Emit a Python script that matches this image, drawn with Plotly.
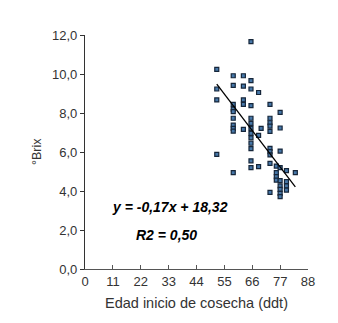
import plotly.graph_objects as go

# Data (x = days, y = °Brix)
x52 = [10.24, 9.23, 8.67, 5.88]
x58 = [9.91, 9.42, 8.44, 8.20, 8.07, 7.73, 7.38, 7.21, 7.07, 4.94]
x62 = [9.91, 9.38, 8.67, 8.44, 7.16]
x65 = [11.66, 9.66, 9.23, 8.38, 7.73, 7.47, 7.21, 6.96, 6.72, 6.45, 6.17, 5.55, 5.20]
x68 = [9.05, 6.85, 5.25]
x69 = [7.21]
x73 = [8.44, 7.73, 7.50, 7.33, 7.06, 6.19, 6.02, 5.85, 5.42, 3.93]
x75 = [5.28, 4.94, 4.74, 4.56]
x77 = [8.03, 7.23, 6.05, 5.20, 4.53, 4.26, 4.08, 3.88, 3.71]
x79 = [5.04, 4.48, 4.26, 4.05]
x83 = [4.94]

groups = {52: x52, 58.5: x58, 62.5: x62, 65.5: x65, 68.5: x68, 69.5: x69,
          73: x73, 75.5: x75, 77: x77, 79.5: x79, 83: x83}

slope = -0.17
intercept = 18.32
fit_x = [52, 83]

x_ticks = [0, 11, 22, 33, 44, 55, 66, 77, 88]
y_ticks = [0, 2, 4, 6, 8, 10, 12]

xs, ys = [], []
for k, vals in groups.items():
    for v in vals:
        xs.append(k)
        ys.append(v)

fig = go.Figure()
fig.add_trace(go.Scatter(
    x=xs, y=ys, mode="markers",
    marker=dict(symbol="square", size=4, color="#4677a8",
                line=dict(color="#16263a", width=1.2)),
    showlegend=False))
fig.add_trace(go.Scatter(
    x=fit_x, y=[slope * v + intercept for v in fit_x], mode="lines",
    line=dict(color="black", width=1.3), showlegend=False))

font = "Liberation Sans, Arial, sans-serif"
fig.update_layout(
    width=338, height=323,
    margin=dict(l=77, r=38, t=27, b=62),
    paper_bgcolor="white", plot_bgcolor="white",
    font=dict(family=font, size=13, color="#333333"),
    xaxis=dict(range=[0, 88], tickvals=x_ticks, ticktext=[str(v) for v in x_ticks],
               showgrid=False, zeroline=False, showline=True, linecolor="#555555",
               linewidth=1.2, ticks="inside", ticklen=4, tickcolor="#555555",
               tickfont=dict(size=13, color="#333333")),
    yaxis=dict(range=[0, 12], tickvals=y_ticks,
               ticktext=[f"{v:.1f}".replace(".", ",") for v in y_ticks],
               showgrid=False, zeroline=False, showline=True, linecolor="#333333",
               linewidth=1.2, ticks="outside", ticklen=4, tickcolor="#333333",
               tickfont=dict(size=13, color="#333333")),
    annotations=[
        dict(text="Edad inicio de cosecha (ddt)", xref="paper", yref="paper",
             x=0.5, y=-0.145, xanchor="center", yanchor="middle",
             showarrow=False, font=dict(size=14.5, color="#333333")),
        dict(text="°Brix", xref="paper", yref="paper", x=-0.215, y=0.5,
             xanchor="center", yanchor="middle",
             textangle=-90, showarrow=False, font=dict(size=12.5, color="#333333")),
        dict(text="<b><i>y = -0,17x + 18,32</i></b>", x=33.5, y=3.18,
             xanchor="center", yanchor="middle",
             showarrow=False, font=dict(size=14, color="black")),
        dict(text="<b><i>R2 = 0,50</i></b>", x=32.1, y=1.74,
             xanchor="center", yanchor="middle",
             showarrow=False, font=dict(size=14, color="black")),
    ],
)

fig.write_html("out.html")
